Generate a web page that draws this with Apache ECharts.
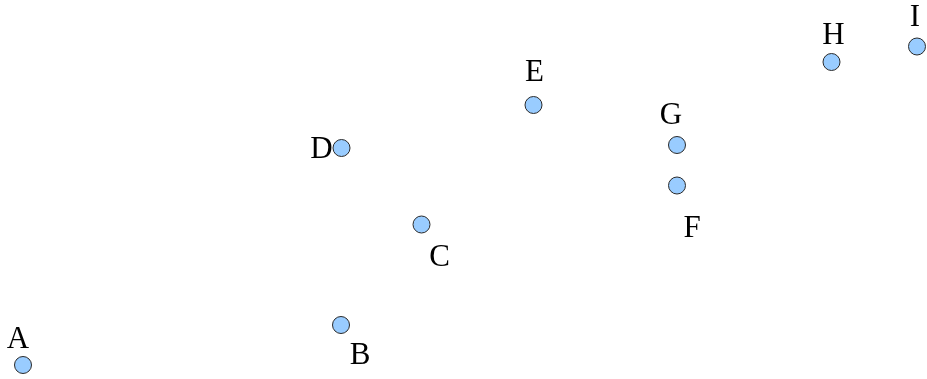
<!DOCTYPE html>
<html>
<head>
<meta charset="utf-8">
<script src="https://cdn.jsdelivr.net/npm/echarts@6/dist/echarts.min.js"></script>
<style>
  html, body { margin: 0; padding: 0; background: #fff; }
  #chart { width: 927px; height: 379px; }
</style>
</head>
<body>
<div id="chart"></div>
<script>
  const names = ['A', 'B', 'C', 'D', 'E', 'F', 'G', 'H', 'I'];
  const xValues = [23, 341, 421.5, 341.5, 533.5, 677, 677, 831.5, 917];
  const yValues = [365, 325, 224.5, 148, 105, 185.5, 145, 62, 46.5];

  // label offset from the point centre, per point
  const labelOffsets = {
    A: [-5, -25], B: [19, 31], C: [18, 33], D: [-20, 2], E: [1, -32],
    F: [15, 43], G: [-6, -29], H: [2, -26], I: [-2, -29]
  };

  const points = names.map((n, i) => ({
    name: n,
    value: [xValues[i], yValues[i]],
    label: { offset: labelOffsets[n] }
  }));

  let mychart = echarts.init(document.getElementById('chart'));
  const option = {
    animation: false,
    grid: { left: 0, right: 0, top: 0, bottom: 0 },
    xAxis: { type: 'value', min: 0, max: 927, show: false },
    yAxis: { type: 'value', min: 0, max: 379, inverse: true, show: false },
    series: [{
      type: 'scatter',
      symbol: 'circle',
      symbolSize: 17,
      itemStyle: {
        color: '#99ccff',
        borderColor: '#2a2a2a',
        borderWidth: 1,
        opacity: 1
      },
      label: {
        show: true,
        position: 'inside',
        formatter: p => p.name,
        color: '#000',
        fontFamily: '"Liberation Serif", "Times New Roman", serif',
        fontSize: 31
      },
      data: points
    }]
  };
  mychart.setOption(option);
</script>
</body>
</html>
